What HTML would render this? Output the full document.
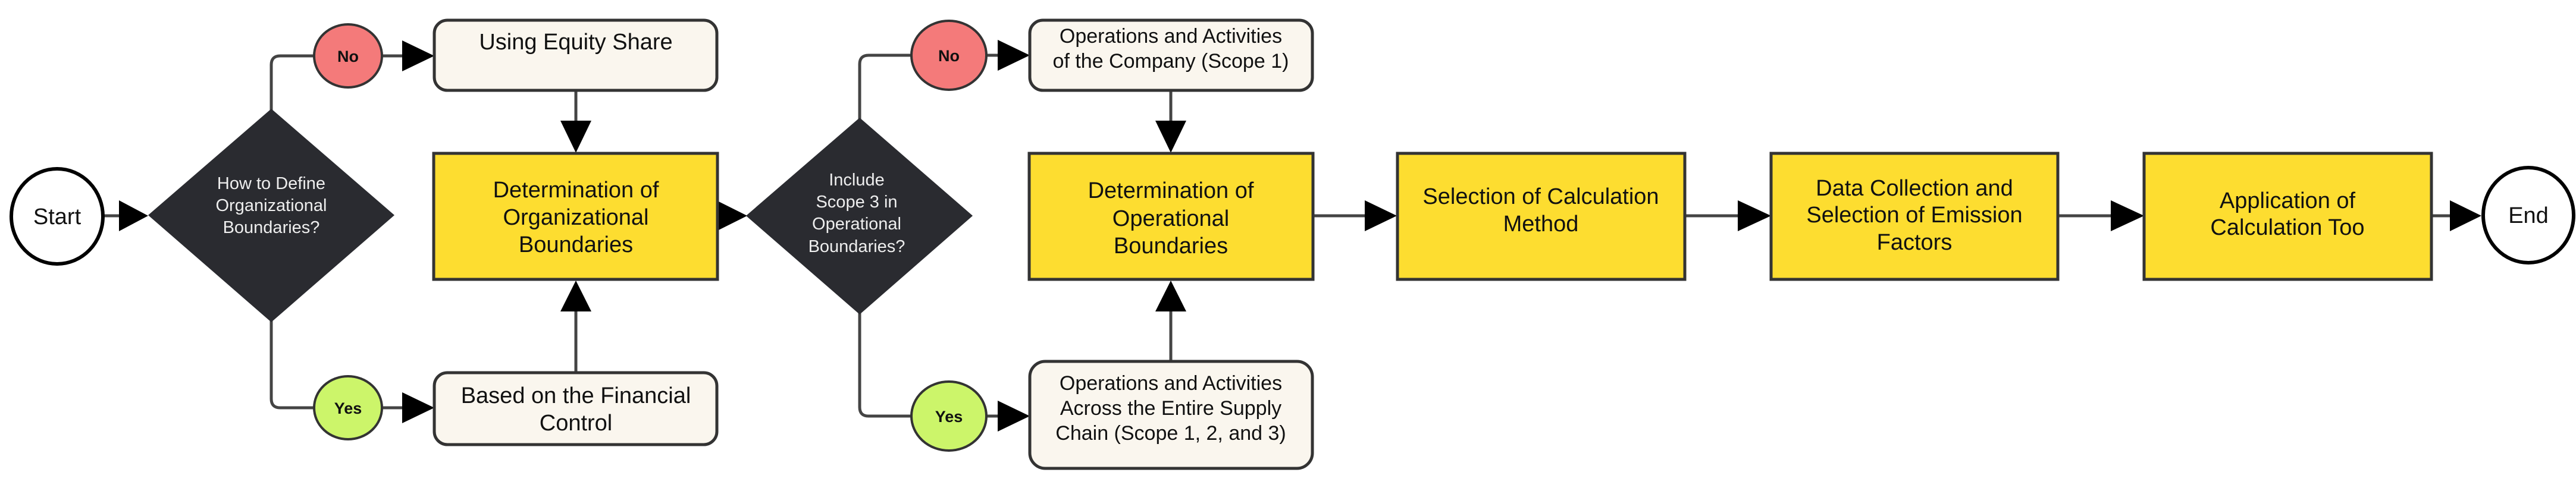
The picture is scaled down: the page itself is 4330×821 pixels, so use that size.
<!DOCTYPE html>
<html><head><meta charset="utf-8"><style>
html,body{margin:0;padding:0;background:#fff;}
svg{display:block;}
text{font-family:"Liberation Sans",sans-serif;text-anchor:middle;}
.bt{font-size:38px;fill:#111;}
.ct{font-size:34px;fill:#111;}
.dt{font-size:29px;fill:#eee;}
.yn{font-size:27px;font-weight:bold;fill:#111;}
</style></head><body>
<svg width="4330" height="821" viewBox="0 0 4330 821" xmlns="http://www.w3.org/2000/svg">
<g stroke="#444" stroke-width="5" fill="none">
  <line x1="174" y1="363" x2="210" y2="363"/>
  <path d="M456 185 V109 Q456 94 471 94 H530"/>
  <line x1="643" y1="94" x2="690" y2="94"/>
  <path d="M456 540 V671 Q456 686 471 686 H530"/>
  <line x1="643" y1="686" x2="690" y2="686"/>
  <line x1="968" y1="152" x2="968" y2="215"/>
  <line x1="968" y1="627" x2="968" y2="515"/>
  <path d="M1445 200 V108 Q1445 93 1460 93 H1535"/>
  <line x1="1659" y1="93" x2="1690" y2="93"/>
  <path d="M1445 527 V685 Q1445 700 1460 700 H1535"/>
  <line x1="1659" y1="700" x2="1690" y2="700"/>
  <line x1="1968" y1="152" x2="1968" y2="215"/>
  <line x1="1968" y1="608" x2="1968" y2="515"/>
  <line x1="2207" y1="363" x2="2300" y2="363"/>
  <line x1="2832" y1="363" x2="2930" y2="363"/>
  <line x1="3459" y1="363" x2="3555" y2="363"/>
  <line x1="4087" y1="363" x2="4130" y2="363"/>
</g>
<g fill="#000">
  <polygon points="200,337 249,363 200,389"/>
  <polygon points="676,68 730,94 676,120"/>
  <polygon points="676,660 730,686 676,712"/>
  <polygon points="942,203 994,203 968,257"/>
  <polygon points="942,524 994,524 968,472"/>
  <polygon points="1204,337 1256,363 1204,389"/>
  <polygon points="1677,67 1731,93 1677,119"/>
  <polygon points="1677,674 1731,700 1677,726"/>
  <polygon points="1942,203 1994,203 1968,257"/>
  <polygon points="1942,524 1994,524 1968,472"/>
  <polygon points="2294,337 2348,363 2294,389"/>
  <polygon points="2921,337 2977,363 2921,389"/>
  <polygon points="3548,337 3604,363 3548,389"/>
  <polygon points="4118,337 4171,363 4118,389"/>
</g>
<!-- start / end -->
<ellipse cx="96" cy="364" rx="77" ry="80" fill="#fff" stroke="#000" stroke-width="6"/>
<text x="96" y="377" class="bt">Start</text>
<ellipse cx="4250" cy="362" rx="76" ry="80" fill="#fff" stroke="#000" stroke-width="6"/>
<text x="4250" y="375" class="bt">End</text>
<!-- diamonds -->
<polygon points="456,183 663,362 456,542 249,362" fill="#2a2b30"/>
<text class="dt"><tspan x="456" y="318">How to Define</tspan><tspan x="456" y="355">Organizational</tspan><tspan x="456" y="392">Boundaries?</tspan></text>
<polygon points="1445,198 1635,363 1445,529 1254,363" fill="#2a2b30"/>
<text class="dt"><tspan x="1440" y="312">Include</tspan><tspan x="1440" y="349">Scope 3 in</tspan><tspan x="1440" y="386">Operational</tspan><tspan x="1440" y="424">Boundaries?</tspan></text>
<!-- yes/no -->
<g stroke="#333" stroke-width="4">
<ellipse cx="585" cy="94" rx="57" ry="53" fill="#f47a7a"/>
<ellipse cx="585" cy="686" rx="57" ry="53" fill="#ccf56a"/>
<ellipse cx="1595" cy="93" rx="63" ry="58" fill="#f47a7a"/>
<ellipse cx="1595" cy="700" rx="63" ry="58" fill="#ccf56a"/>
</g>
<text class="yn" x="585" y="104">No</text>
<text class="yn" x="585" y="696">Yes</text>
<text class="yn" x="1595" y="103">No</text>
<text class="yn" x="1595" y="710">Yes</text>
<!-- cream boxes -->
<g fill="#faf6ee" stroke="#333" stroke-width="5">
<rect x="730" y="34" width="475" height="118" rx="22"/>
<rect x="730" y="627" width="475" height="121" rx="22"/>
<rect x="1731" y="34" width="475" height="118" rx="22"/>
<rect x="1731" y="608" width="475" height="180" rx="26"/>
</g>
<text class="bt" x="968" y="83">Using Equity Share</text>
<text class="bt"><tspan x="968" y="678">Based on the Financial</tspan><tspan x="968" y="724">Control</tspan></text>
<text class="ct"><tspan x="1968" y="72">Operations and Activities</tspan><tspan x="1968" y="114">of the Company (Scope 1)</tspan></text>
<text class="ct"><tspan x="1968" y="656">Operations and Activities</tspan><tspan x="1968" y="698">Across the Entire Supply</tspan><tspan x="1968" y="740">Chain (Scope 1, 2, and 3)</tspan></text>
<!-- yellow boxes -->
<g fill="#fddd30" stroke="#333" stroke-width="5">
<rect x="729" y="258" width="477" height="212"/>
<rect x="1730" y="258" width="477" height="212"/>
<rect x="2349" y="258" width="483" height="212"/>
<rect x="2977" y="258" width="482" height="212"/>
<rect x="3604" y="258" width="483" height="212"/>
</g>
<text class="bt"><tspan x="968" y="332">Determination of</tspan><tspan x="968" y="378">Organizational</tspan><tspan x="968" y="424">Boundaries</tspan></text>
<text class="bt"><tspan x="1968" y="333">Determination of</tspan><tspan x="1968" y="380">Operational</tspan><tspan x="1968" y="426">Boundaries</tspan></text>
<text class="bt"><tspan x="2590" y="343">Selection of Calculation</tspan><tspan x="2590" y="389">Method</tspan></text>
<text class="bt"><tspan x="3218" y="329">Data Collection and</tspan><tspan x="3218" y="374">Selection of Emission</tspan><tspan x="3218" y="420">Factors</tspan></text>
<text class="bt"><tspan x="3845" y="350">Application of</tspan><tspan x="3845" y="395">Calculation Too</tspan></text>
</svg>
</body></html>
